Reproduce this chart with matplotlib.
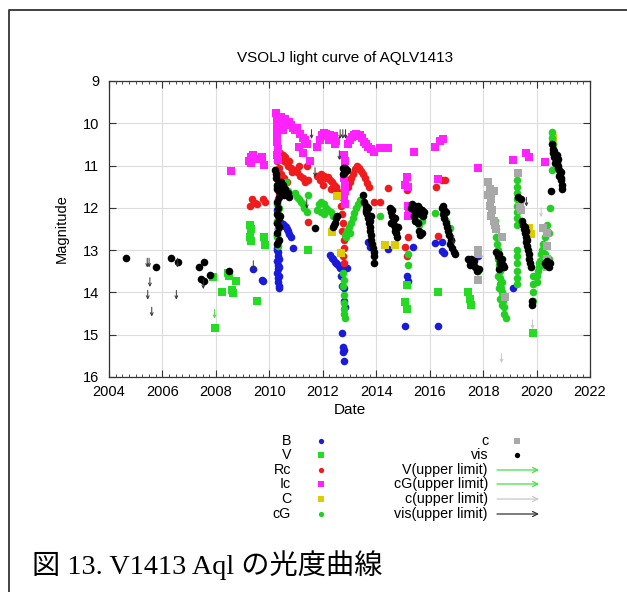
import matplotlib
matplotlib.use("Agg")
import matplotlib.pyplot as plt

# ---------------- data (decimal year, magnitude) ----------------
vis = [(2004.62,13.19),(2005.76,13.40),(2006.32,13.19),(2006.57,13.29),(2007.37,13.40),(2007.56,13.29),
       (2007.43,13.69),(2007.56,13.74),(2007.78,13.59),(2008.49,13.49),
       (2010.22,11.10),(2010.24,11.2),(2010.26,11.3),(2010.3,11.45),(2010.28,11.55),(2010.35,11.6),(2010.4,11.5),
       (2010.45,11.65),(2010.5,11.6),(2010.55,11.7),(2010.6,11.55),(2010.65,11.7),(2010.7,11.65),(2010.75,11.75),
       (2010.38,11.75),(2010.3,11.85),(2010.32,12.0),(2010.28,12.15),(2010.35,12.25),(2010.3,12.35),(2010.35,12.45),
       (2010.3,12.6),(2010.35,12.75),(2010.3,12.85),(2010.4,12.2),(2010.42,11.4),(2010.5,11.45),
       (2011.71,12.47),
       (2012.4,12.45),(2012.45,12.35),(2012.5,12.25),(2012.55,12.2),(2012.42,12.4),
       (2012.75,11.05),(2012.8,11.1),(2012.85,11.15),(2012.75,11.2),(2012.9,11.1),(2012.85,11.05),
       (2013.5,11.7),(2013.55,11.85),(2013.6,11.95),(2013.62,12.05),(2013.65,12.15),(2013.7,12.25),(2013.72,12.35),
       (2013.75,12.45),(2013.78,12.55),(2013.8,12.65),(2013.82,12.75),(2013.85,12.85),(2013.88,12.95),(2013.9,13.05),
       (2013.92,13.15),(2013.92,13.3),(2013.6,12.1),(2013.7,12.0),(2013.75,12.3),(2013.8,12.2),
       (2014.52,12.0),(2014.55,12.1),(2014.6,12.2),(2014.62,12.3),(2014.65,12.4),(2014.7,12.45),(2014.72,12.55),
       (2014.75,12.6),(2014.78,12.68),(2014.6,12.05),(2014.7,12.25),(2014.8,12.45),(2014.55,12.35),
       (2015.3,12.0),(2015.35,11.9),(2015.4,12.05),(2015.45,11.95),(2015.5,12.1),(2015.55,11.95),(2015.6,12.0),
       (2015.65,12.15),(2015.7,12.05),(2015.75,12.2),(2015.8,12.1),(2015.45,12.3),(2015.55,12.35),(2015.6,12.55),
       (2015.65,12.65),(2015.7,12.6),(2015.4,12.2),
       (2016.45,12.0),(2016.5,11.95),(2016.55,12.05),(2016.6,12.1),(2016.55,12.25),(2016.6,12.35),(2016.65,12.45),
       (2016.7,12.55),(2016.72,12.65),(2016.8,12.75),(2016.75,12.85),(2016.85,12.95),(2016.9,13.05),(2016.95,13.1),
       (2016.5,12.15),
       (2017.43,13.2),(2017.5,13.25),(2017.55,13.2),(2017.6,13.3),(2017.65,13.25),(2017.7,13.4),(2017.78,13.5),
       (2017.85,13.45),(2017.5,13.35),
       (2018.5,13.05),(2018.55,13.15),(2018.6,13.1),(2018.62,13.25),(2018.65,13.3),(2018.7,13.2),(2018.75,13.35),
       (2018.8,13.4),(2018.6,13.45),
       (2019.3,11.75),(2019.4,11.8),
       (2019.45,12.3),(2019.5,12.4),(2019.52,12.5),(2019.55,12.6),(2019.6,12.7),(2019.62,12.8),(2019.65,12.9),
       (2019.68,13.0),(2019.7,13.1),(2019.72,13.2),(2019.75,13.3),(2019.78,13.4),(2019.55,12.45),(2019.6,12.55),
       (2019.65,12.75),(2019.82,14.3),(2019.82,14.2),
       (2020.3,13.3),(2020.35,13.35),(2020.4,13.25),(2020.45,13.4),(2020.5,13.3),
       (2020.55,11.6),(2020.58,10.5),(2020.6,10.6),(2020.62,10.7),(2020.65,10.65),(2020.68,10.75),(2020.7,10.8),
       (2020.72,10.85),(2020.75,10.9),(2020.78,10.95),(2020.8,11.0),(2020.82,11.05),(2020.85,11.1),(2020.88,11.2),
       (2020.9,11.3),(2020.92,11.35),(2020.95,11.45),(2020.65,10.8),(2020.7,10.95),(2020.75,10.75),(2020.8,10.85),
       (2020.85,11.25),(2020.9,11.15),(2020.95,11.55)]

B = [(2009.38,13.45),(2009.72,13.7),(2009.78,13.72),
     (2010.3,12.05),(2010.32,12.2),(2010.3,12.35),(2010.33,12.5),(2010.3,12.65),(2010.32,12.8),(2010.3,12.95),
     (2010.33,13.05),(2010.32,13.15),(2010.3,13.25),(2010.33,13.35),(2010.32,13.45),(2010.3,13.55),(2010.33,13.65),
     (2010.32,13.75),(2010.35,13.85),(2010.35,13.9),(2010.3,13.0),(2010.35,13.2),(2010.35,13.4),(2010.35,13.6),
     (2010.42,12.35),(2010.5,12.38),(2010.58,12.42),(2010.65,12.5),(2010.7,12.55),(2010.75,12.62),(2010.8,12.7),
     (2010.62,12.45),(2010.87,12.94),
     (2012.27,13.12),(2012.33,13.18),(2012.4,13.22),(2012.45,13.27),(2012.5,13.3),(2012.55,13.32),(2012.6,13.38),
     (2012.65,13.42),(2012.7,13.6),(2012.72,13.85),(2012.78,13.9),(2012.8,14.2),(2012.82,14.35),(2012.72,14.95),
     (2012.75,15.3),(2012.8,15.35),(2012.77,15.42),(2012.78,15.62),(2012.9,13.43),
     (2013.69,12.8),(2013.75,12.92),(2014.44,12.97),(2015.14,13.6),(2015.19,13.73),(2015.08,14.8),(2015.38,12.92),
     (2016.2,12.84),(2016.45,12.8),(2016.45,13.03),(2016.52,13.06),(2016.32,14.8),(2017.8,13.13),(2019.13,13.89)]

V = [(2007.9,13.63),(2007.97,14.85),(2008.24,13.98),(2008.46,13.55),(2008.5,13.62),(2008.61,13.94),(2008.65,14.02),
     (2008.75,13.74),(2009.53,14.21),(2009.28,12.4),(2009.3,12.5),(2009.28,12.68),(2009.32,12.78),(2009.8,12.68),
     (2009.84,12.89),(2011.46,12.99),(2015.14,13.82),(2015.08,14.22),(2015.14,14.4),(2016.32,13.98),(2017.43,14.0),
     (2017.5,14.15),(2017.55,14.3),(2019.85,14.95)]

Rc = [(2009.28,11.95),(2009.35,11.8),(2009.45,11.88),(2009.55,11.92),(2009.75,11.78),(2009.82,11.85),
      (2010.3,10.6),(2010.35,10.75),(2010.3,10.9),(2010.35,11.05),(2010.3,11.2),(2010.33,11.35),(2010.3,11.5),
      (2010.35,11.65),(2010.32,11.8),(2010.4,10.7),(2010.45,10.85),(2010.5,10.75),(2010.55,10.9),(2010.6,10.8),
      (2010.65,10.95),(2010.7,11.0),(2010.75,10.9),(2010.8,11.05),(2010.85,11.15),(2010.45,11.2),(2010.55,11.3),
      (2010.5,11.55),(2010.65,11.4),
      (2010.95,11.1),(2011.05,11.15),(2011.15,11.25),(2011.25,11.3),(2011.35,11.4),(2011.42,11.0),(2011.45,11.35),
      (2011.46,12.34),(2011.1,11.0),
      (2011.8,11.25),(2011.88,11.35),(2011.95,11.2),(2012.05,11.25),(2012.12,11.3),(2012.2,11.28),(2012.28,11.35),
      (2012.35,11.4),(2012.42,11.45),(2012.5,11.5),(2012.55,11.6),(2012.62,11.65),(2012.0,11.45),(2012.3,11.55),
      (2012.7,11.95),(2012.72,12.15),(2012.75,12.35),(2012.72,12.55),(2012.78,12.75),(2012.8,12.95),(2012.75,13.15),
      (2012.8,13.3),
      (2012.95,11.5),(2013.0,11.4),(2013.05,11.3),(2013.12,11.2),(2013.2,11.08),(2013.28,11.0),(2013.35,11.05),
      (2013.42,11.12),(2013.5,11.2),(2013.58,11.3),(2013.65,11.42),(2013.72,11.5),
      (2013.9,11.85),(2014.15,11.85),(2014.45,11.53),(2015.14,11.58),(2015.19,12.68),(2015.08,12.92),(2015.14,13.15),
      (2016.25,11.5),(2016.45,11.34),(2016.57,11.34),(2016.32,12.66)]

Ic = [(2008.55,11.14),(2009.25,10.9),(2009.3,10.8),(2009.38,10.75),(2009.5,10.85),(2009.72,10.8),(2009.8,10.98),
      (2009.3,10.95),
      (2010.25,9.75),(2010.28,9.88),(2010.3,10.0),(2010.28,10.15),(2010.3,10.3),(2010.28,10.45),(2010.32,10.6),
      (2010.3,10.75),(2010.32,10.88),(2010.38,9.9),(2010.42,10.05),(2010.45,9.85),(2010.52,9.95),(2010.6,9.9),
      (2010.65,10.0),(2010.72,9.98),(2010.8,10.05),(2010.88,10.1),(2010.95,10.15),(2011.05,10.1),(2011.15,10.25),
      (2011.25,10.35),(2011.32,10.4),(2011.4,10.5),(2011.27,10.7),(2011.52,10.9),(2011.1,10.55),(2010.5,10.15),
      (2011.8,10.55),(2011.9,10.4),(2011.98,10.28),(2012.05,10.22),(2012.12,10.25),(2012.2,10.3),(2012.28,10.28),
      (2012.35,10.35),(2012.42,10.3),(2012.5,10.42),(2012.25,10.4),(2012.45,10.5),
      (2012.78,10.75),(2012.82,10.9),(2012.8,11.3),(2012.82,11.45),(2012.85,11.6),(2012.8,11.75),(2012.82,11.9),
      (2012.95,10.5),(2013.02,10.4),(2013.1,10.32),(2013.18,10.28),(2013.25,10.25),(2013.32,10.3),(2013.4,10.28),
      (2013.48,10.35),(2013.55,10.45),(2013.62,10.5),(2013.7,10.55),(2013.8,10.6),
      (2013.9,10.67),(2014.14,10.59),(2014.45,10.59),(2015.4,10.67),(2016.2,10.55),(2016.39,10.43),(2016.5,10.38),
      (2015.14,11.28),(2015.08,11.46),(2015.2,11.5),(2015.2,11.95),(2015.22,12.1),(2015.18,12.2),(2016.32,11.32),
      (2017.8,11.06),(2019.13,10.88),(2019.62,10.71),(2019.72,10.79),(2020.32,10.92)]

C = [(2012.33,12.58),(2012.55,11.72),(2012.67,13.07),(2014.33,12.89),(2014.7,12.89),(2019.73,12.48),
     (2019.8,12.62),(2020.62,10.35)]

cG = [(2010.3,11.9),(2010.32,12.1),(2010.3,12.3),(2010.33,12.5),(2010.3,12.7),(2010.32,12.9),(2010.45,11.45),
      (2010.55,11.55),(2010.62,11.4),(2010.7,11.6),(2010.38,12.0),
      (2010.95,11.65),(2011.02,11.75),(2011.1,11.8),(2011.18,11.85),(2011.25,11.9),(2011.3,12.0),(2011.4,12.1),
      (2011.45,11.7),
      (2011.78,12.05),(2011.85,11.9),(2011.95,11.85),(2012.05,11.9),(2012.12,12.0),(2012.2,12.05),(2012.3,12.1),
      (2012.38,12.2),(2011.92,12.1),(2012.05,12.15),
      (2012.75,13.85),(2012.78,14.05),(2012.8,14.25),(2012.78,14.4),(2012.8,14.5),(2012.82,14.6),(2012.75,13.55),
      (2012.8,13.7),
      (2012.82,12.65),(2012.9,12.55),(2012.98,12.45),(2013.05,12.35),(2013.12,12.25),(2013.18,12.12),(2013.25,12.0),
      (2013.32,11.9),(2013.38,11.82),(2012.88,12.7),(2013.0,12.6),
      (2014.14,12.2),(2014.6,12.35),(2014.75,12.5),
      (2015.2,13.1),(2015.2,13.35),(2015.5,12.3),(2015.6,12.4),(2015.7,12.3),
      (2016.2,12.13),(2016.76,12.48),(2016.6,12.3),(2017.82,13.5),
      (2018.45,12.3),(2018.47,12.5),(2018.5,12.7),(2018.52,12.85),(2018.55,13.0),(2018.57,13.2),(2018.6,13.35),
      (2018.62,13.5),(2018.63,13.65),(2018.65,13.8),(2018.67,13.9),(2018.7,14.0),(2018.72,14.1),(2018.75,14.2),
      (2018.78,14.35),(2018.8,14.5),(2018.85,14.6),(2018.55,13.6),(2018.6,13.9),(2018.7,13.75),(2018.72,14.3),
      (2018.65,14.15),
      (2019.27,11.35),(2019.27,11.5),(2019.28,11.65),(2019.27,11.8),(2019.27,11.95),(2019.28,12.1),(2019.27,12.25),
      (2019.28,12.4),(2019.25,13.0),(2019.25,13.15),(2019.25,13.3),(2019.27,13.5),(2019.25,13.65),(2019.27,13.8),
      (2019.85,13.6),(2019.85,13.8),(2019.87,14.0),(2019.85,14.2),
      (2020.0,13.6),(2020.05,13.5),(2020.1,13.4),(2020.12,13.25),(2020.15,13.1),(2020.2,13.0),(2020.25,12.85),
      (2020.3,12.7),(2020.35,12.55),(2020.4,12.4),(2020.45,12.6),(2020.5,12.0),(2020.1,13.3),(2020.3,13.1),
      (2020.45,13.2),(2020.0,13.75),
      (2020.58,10.2),(2020.58,10.35),(2020.6,10.5),(2020.57,11.1),(2020.62,10.65)]

c = [(2018.2,11.4),(2018.25,11.55),(2018.2,11.7),(2018.3,11.8),(2018.25,11.95),(2018.35,12.05),(2018.3,12.2),
     (2018.4,12.3),(2018.45,12.4),(2018.5,12.5),(2018.4,11.6),(2017.82,12.99),(2017.82,13.7),(2017.8,13.1),
     (2018.82,14.1),(2018.7,12.7),(2019.32,11.18),(2019.38,11.97),(2019.4,12.05),(2020.25,12.48),(2020.38,12.6),
     (2020.38,12.9),(2020.4,13.2),(2020.38,13.4)]

vis_ul = [(2005.43,13.19),(2005.5,13.19),(2005.53,13.65),(2005.45,13.95),(2005.6,14.35),(2006.56,13.19),
          (2006.52,13.95),(2007.53,13.7),(2009.4,13.25),(2011.58,10.15),(2011.71,11.05),(2011.4,11.8),
          (2012.65,10.15),(2012.75,10.15),(2012.85,10.15),(2012.62,10.65),(2016.9,12.65),(2019.62,11.75)]
V_ul = [(2007.95,14.4)]
cG_ul = []
c_ul = [(2018.69,15.45),(2019.85,14.65),(2020.17,12.0)]

series = [("B", B, "o", "#1a1adc"), ("V", V, "s", "#22dd22"), ("Rc", Rc, "o", "#ee1c1c"),
          ("Ic", Ic, "s", "#ff22ff"), ("C", C, "s", "#dccc00"), ("cG", cG, "o", "#22d022"),
          ("c", c, "s", "#a8a8a8"), ("vis", vis, "o", "#000000")]
ul_series = [("V(upper limit)", V_ul, "#44e044"), ("cG(upper limit)", cG_ul, "#44e044"),
             ("c(upper limit)", c_ul, "#c8c8c8"), ("vis(upper limit)", vis_ul, "#333333")]

W, H = 627, 592
fig = plt.figure(figsize=(W/100, H/100), dpi=100)
plt.rcParams['font.family'] = ['Liberation Sans', 'DejaVu Sans']

ax = fig.add_axes([109/W, 1-377/H, (590-109)/W, (377-81)/H])
ax.set_xlim(2004, 2022)
ax.set_ylim(16, 9)
ax.set_xticks(range(2004, 2023, 2))
ax.set_xticks([2004 + 0.25*i for i in range(73)], minor=True)
ax.set_yticks(range(9, 17))
ax.grid(True, which='major', color='#dcdcdc', lw=0.8)
ax.set_axisbelow(True)
ax.tick_params(which='both', direction='in', top=True, right=True, labelsize=10.5, color='#333333')
ax.tick_params(which='major', length=5, width=0.8)
ax.tick_params(which='minor', length=2.5, width=0.6)
ax.tick_params(axis='y', pad=7)
ax.tick_params(axis='x', pad=6)
for s in ax.spines.values():
    s.set_color('#333333'); s.set_linewidth(0.9)

for name, pts, mk, col in series:
    xs = [p[0] for p in pts]; ys = [p[1] for p in pts]
    ax.scatter(xs, ys, s=30 if mk == 'o' else 27, marker=mk, color=col, linewidths=0, zorder=3)

for name, pts, col in ul_series:
    for x, m in pts:
        ax.annotate('', xy=(x, m + 0.22), xytext=(x, m),
                    arrowprops=dict(arrowstyle='->', color=col, lw=0.7, shrinkA=0, shrinkB=0,
                                    mutation_scale=5), zorder=4)

fig.text(345/W, 1-58/H, "VSOLJ light curve of AQLV1413", ha='center', va='center', fontsize=11)
fig.text(62/W, 1-229/H, "Magnitude", ha='center', va='center', rotation=90, fontsize=10.5)
fig.text(350/W, 1-410/H, "Date", ha='center', va='center', fontsize=11)

# overlay in pixel coordinates for frame and legend keys
ov = fig.add_axes([0, 0, 1, 1], facecolor='none')
ov.set_xlim(0, W); ov.set_ylim(H, 0); ov.axis('off')
ov.plot([9, 9, W], [H, 10, 10], color='#333333', lw=1.3)

rows = [441, 455, 470, 484, 499, 514]
left = series[:6]
for (name, pts, mk, col), y in zip(left, rows):
    fig.text(291/W, 1-y/H, name, ha='right', va='center', fontsize=10.3)
    ov.plot([321], [y], marker=mk, color=col, ms=3.8, mew=0)
right_keys = [series[6], series[7]]
for (name, pts, mk, col), y in zip(right_keys, rows[:2]):
    fig.text(488/W, 1-y/H, name, ha='right', va='center', fontsize=10.3)
    ov.plot([517], [y], marker=mk, color=col, ms=3.8, mew=0)
for (name, pts, col), y in zip(ul_series, rows[2:]):
    fig.text(488/W, 1-y/H, name, ha='right', va='center', fontsize=10.3)
    ov.annotate('', xy=(539, y), xytext=(497, y),
                arrowprops=dict(arrowstyle='->', color=col, lw=0.9, shrinkA=0, shrinkB=0, mutation_scale=9))

fig.text(32/W, 1-565/H, "図 13. V1413 Aql の光度曲線", ha='left', va='center', fontsize=20.3,
         family=['Liberation Serif', 'Noto Sans CJK JP'])

fig.savefig("out.png", dpi=100)
